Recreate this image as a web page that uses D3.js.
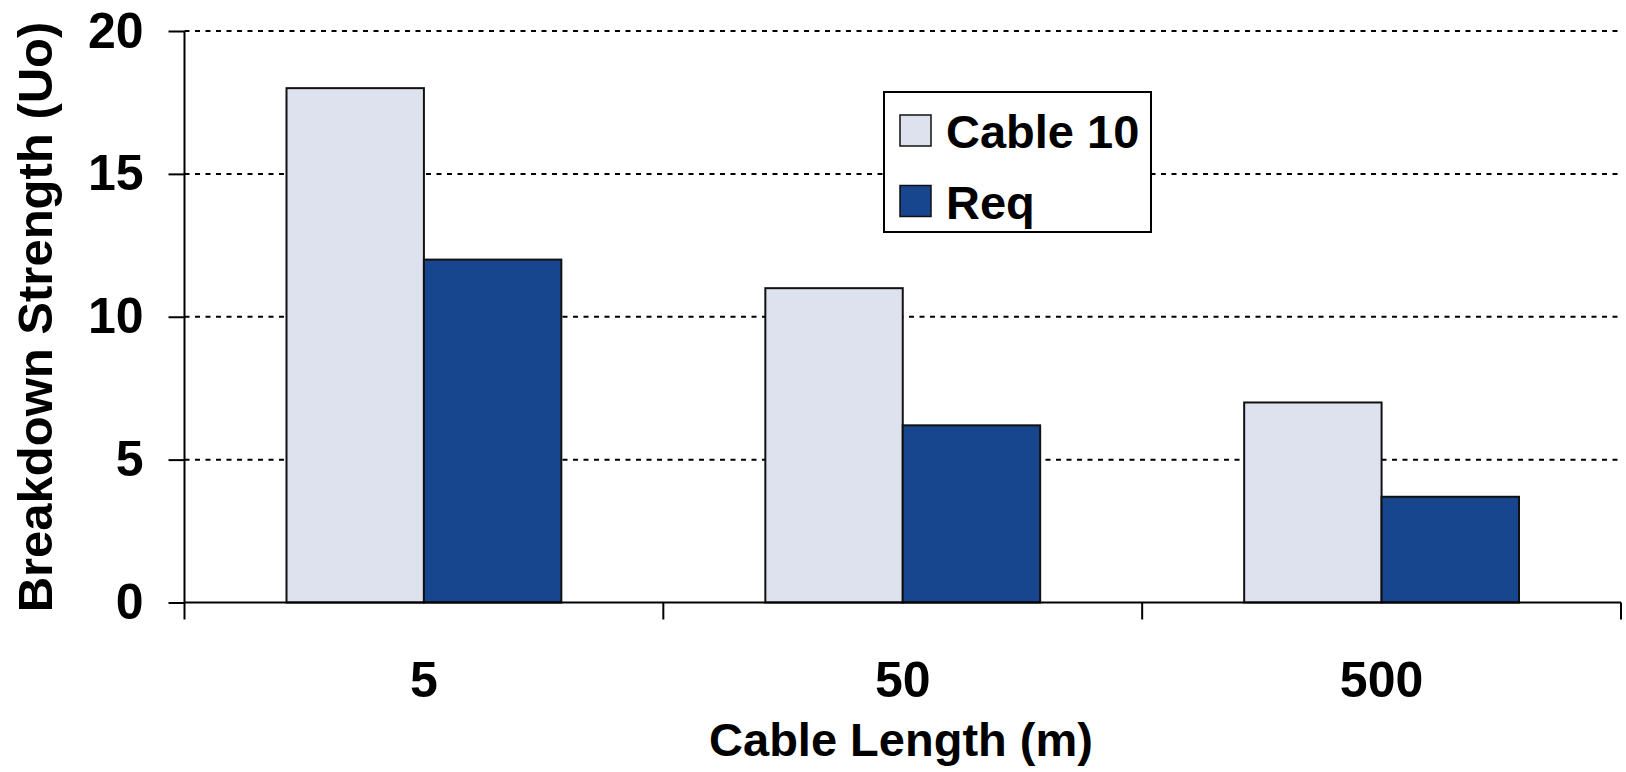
<!DOCTYPE html>
<html>
<head>
<meta charset="utf-8">
<script src="https://cdn.jsdelivr.net/npm/d3@7"></script>
<style>
  body { margin: 0; background: #fff; }
  text { font-family: "Liberation Sans", Arial, sans-serif; font-weight: bold; fill: #000; }
</style>
</head>
<body>
<svg id="chart"></svg>
<script>
// chart data
const lengths = ['5', '50', '500'];
const seriesNames = ['Cable 10', 'Req'];
const cable10 = [18, 11, 7];
const req = [12, 6.2, 3.7];
const yTicks = [0, 5, 10, 15, 20];

const colors = {'Cable 10': '#dee1ee', 'Req': '#17458e'};

const width = 1626, height = 772;
const plotLeft = 184.5, plotRight = 1621, plotTop = 31, plotBottom = 602.5;

const svg = d3.select('#chart')
    .attr('width', width)
    .attr('height', height);

const rows = lengths.map((l, i) => ({length: l, 'Cable 10': cable10[i], 'Req': req[i]}));

const x0 = d3.scaleBand()
    .domain(lengths)
    .range([plotLeft, plotRight])
    .padding(0);

const pad = 102;
const x1 = d3.scaleBand()
    .domain(seriesNames)
    .range([pad, x0.bandwidth() - pad])
    .padding(0);

const y = d3.scaleLinear()
    .domain([0, 20])
    .range([plotBottom, plotTop]);

// gridlines
svg.append('g')
    .selectAll('line')
    .data(yTicks.filter(d => d > 0))
    .join('line')
    .attr('x1', plotLeft)
    .attr('x2', plotRight)
    .attr('y1', d => y(d))
    .attr('y2', d => y(d))
    .attr('stroke', '#000')
    .attr('stroke-width', 2)
    .attr('stroke-dasharray', '5,5.5');

// bars
svg.append('g')
    .selectAll('g')
    .data(rows)
    .join('g')
    .attr('transform', d => `translate(${x0(d.length)},0)`)
    .selectAll('rect')
    .data(d => seriesNames.map(s => ({key: s, value: d[s]})))
    .join('rect')
    .attr('x', d => x1(d.key))
    .attr('width', x1.bandwidth())
    .attr('y', d => y(d.value))
    .attr('height', d => y(0) - y(d.value))
    .attr('fill', d => colors[d.key])
    .attr('stroke', '#111')
    .attr('stroke-width', 2);

// y axis
const yAxis = d3.axisLeft(y)
    .tickValues(yTicks)
    .tickSize(16)
    .tickPadding(25)
    .tickFormat(d3.format('d'));

svg.append('g')
    .attr('transform', `translate(${plotLeft},0)`)
    .call(yAxis)
    .call(g => g.select('.domain').attr('stroke-width', 2).attr('d', `M0,${plotTop}V${plotBottom}`))
    .call(g => g.selectAll('.tick line').attr('stroke-width', 2))
    .call(g => g.selectAll('text').style('font-size', '50px').attr('font-family', null));

// x axis baseline and band boundary ticks
svg.append('line')
    .attr('x1', plotLeft)
    .attr('x2', plotRight)
    .attr('y1', plotBottom)
    .attr('y2', plotBottom)
    .attr('stroke', '#000')
    .attr('stroke-width', 2);

const bounds = lengths.map(l => x0(l)).concat([x0.range()[1]]);
svg.append('g')
    .selectAll('line')
    .data(bounds)
    .join('line')
    .attr('x1', d => d)
    .attr('x2', d => d)
    .attr('y1', plotBottom)
    .attr('y2', plotBottom + 17)
    .attr('stroke', '#000')
    .attr('stroke-width', 2);

const xAxis = d3.axisBottom(x0)
    .tickSize(0)
    .tickPadding(59);

svg.append('g')
    .attr('transform', `translate(0,${plotBottom})`)
    .call(xAxis)
    .call(g => g.select('.domain').remove())
    .call(g => g.selectAll('text').style('font-size', '50px').attr('font-family', null));

// axis titles
svg.append('text')
    .attr('x', 901)
    .attr('y', 756)
    .attr('text-anchor', 'middle')
    .style('font-size', '47px')
    .text('Cable Length (m)');

svg.append('text')
    .attr('transform', 'translate(52,317) rotate(-90)')
    .attr('text-anchor', 'middle')
    .style('font-size', '49px')
    .text('Breakdown Strength (Uo)');

// legend
const legend = svg.append('g')
    .attr('transform', 'translate(884,92)');

legend.append('rect')
    .attr('width', 267)
    .attr('height', 140)
    .attr('fill', '#fff')
    .attr('stroke', '#000')
    .attr('stroke-width', 2);

const items = legend.selectAll('.item')
    .data(seriesNames)
    .join('g')
    .attr('class', 'item')
    .attr('transform', (d, i) => `translate(16,${23 + i * 70.5})`);

items.append('rect')
    .attr('width', 31)
    .attr('height', 31)
    .attr('fill', d => colors[d])
    .attr('stroke', '#111')
    .attr('stroke-width', 1.5);

items.append('text')
    .attr('x', 46)
    .attr('y', 33)
    .style('font-size', '47px')
    .text(d => d);
</script>
</body>
</html>
